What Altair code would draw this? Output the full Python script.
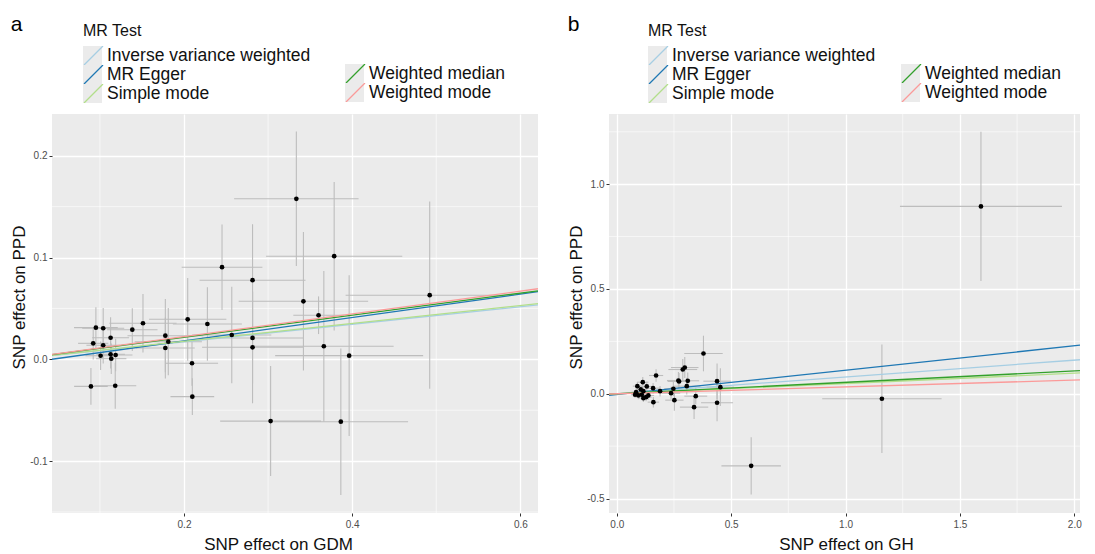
import altair as alt
import pandas as pd

FONT = "Liberation Sans"

methods_1 = ["Inverse variance weighted", "MR Egger", "Simple mode"]
methods_2 = ["Weighted median", "Weighted mode"]
colors_1 = ["#a6cee3", "#1f78b4", "#b2df8a"]
colors_2 = ["#33a02c", "#fb9a99"]

# ---------------- Panel a : GDM -> PPD ----------------
a_bx = [0.0893, 0.1182, 0.0920, 0.0952, 0.1039, 0.1039, 0.1127, 0.1008, 0.1127, 0.1135,
        0.1187, 0.1385, 0.1512, 0.1778, 0.1778, 0.1813, 0.2044, 0.2095, 0.2099, 0.2278,
        0.2452, 0.2568, 0.2815, 0.2815, 0.2815, 0.3030, 0.3336, 0.3420, 0.3600, 0.3663,
        0.3786, 0.3865, 0.3964, 0.4922]
a_sx = [0.020, 0.025, 0.018, 0.026, 0.025, 0.020, 0.022, 0.018, 0.017, 0.018,
        0.020, 0.030, 0.040, 0.045, 0.035, 0.040, 0.046, 0.031, 0.026, 0.041,
        0.048, 0.047, 0.063, 0.060, 0.060, 0.060, 0.074, 0.077, 0.030, 0.083,
        0.081, 0.080, 0.088, 0.100]
a_by = [-0.0266, -0.0260, 0.0157, 0.0311, 0.0305, 0.0138, 0.0212, 0.0035, 0.0049, 0.0006,
        0.0042, 0.0291, 0.0354, 0.0232, 0.0111, 0.0173, 0.0393, -0.0039, -0.0367, 0.0347,
        0.0905, 0.0239, 0.0777, 0.0210, 0.0118, -0.0607, 0.1577, 0.0570, 0.0433, 0.0128,
        0.1013, -0.0613, 0.0036, 0.0630]
a_sy = [0.018, 0.0225, 0.016, 0.020, 0.020, 0.018, 0.020, 0.014, 0.014, 0.015,
        0.016, 0.021, 0.0287, 0.036, 0.030, 0.033, 0.0406, 0.022, 0.018, 0.036,
        0.042, 0.0475, 0.055, 0.045, 0.055, 0.054, 0.066, 0.068, 0.0185, 0.074,
        0.073, 0.072, 0.079, 0.092]
# slopes / intercepts for IVW, MR Egger, Simple mode, Weighted median, Weighted mode
a_slope = [0.086, 0.1149, 0.088, 0.1084, 0.1116]
a_icpt = [0.0, -0.0049, 0.0, 0.0, 0.0]

# ---------------- Panel b : GH -> PPD ----------------
b_bx = [1.592, 1.159, 0.5875, 0.379, 0.4384, 0.4528, 0.4384, 0.3379, 0.3453, 0.2885,
        0.2972, 0.2694, 0.3103, 0.3060, 0.2518, 0.2373, 0.2474, 0.1892, 0.1718, 0.1587,
        0.1600, 0.1136, 0.0900, 0.1311, 0.1049, 0.1163, 0.0844, 0.0944, 0.1280, 0.1381,
        0.1093, 0.1163, 0.0800, 0.2723]
b_sx = [0.354, 0.261, 0.130, 0.084, 0.060, 0.060, 0.070, 0.062, 0.050, 0.063,
        0.060, 0.050, 0.050, 0.060, 0.040, 0.040, 0.040, 0.030, 0.031, 0.030,
        0.025, 0.025, 0.020, 0.025, 0.020, 0.020, 0.020, 0.020, 0.025, 0.025,
        0.020, 0.020, 0.018, 0.050]
b_by = [0.894, -0.0238, -0.344, 0.192, 0.060, 0.0314, -0.0429, -0.0638, -0.0114, 0.1157,
        0.1252, 0.0633, 0.0619, 0.0362, -0.0305, 0.0029, 0.0238, 0.0124, 0.0871, 0.0267,
        -0.040, 0.0552, 0.0362, 0.0348, 0.0205, 0.0124, 0.0076, -0.0081, -0.0162, -0.0081,
        -0.0048, -0.0210, -0.0048, 0.0586]
b_sy = [0.356, 0.259, 0.137, 0.085, 0.085, 0.090, 0.088, 0.057, 0.040, 0.050,
        0.050, 0.040, 0.040, 0.040, 0.050, 0.030, 0.035, 0.025, 0.030, 0.025,
        0.025, 0.025, 0.020, 0.022, 0.020, 0.018, 0.018, 0.018, 0.020, 0.020,
        0.016, 0.018, 0.016, 0.040]
b_slope = [0.0802, 0.1165, 0.049, 0.0545, 0.0327]
b_icpt = [0.0, -0.0041, 0.0, 0.0, 0.0]

LABEL_EXPR = "datum.value < 0 ? '-' + format(abs(datum.value), '.1f') : format(datum.value, '.1f')"
BG = "#ebebeb"


def legend(title, lx, ly, z, kind):
    kw = dict(orient="none", legendX=lx, legendY=ly, zindex=z, padding=0, rowPadding=0,
              clipHeight=19,
              labelFontSize=17.5, labelFont=FONT, labelOffset=3, labelLimit=400,
              titleFontSize=16, titleFont=FONT, titleFontWeight="normal",
              titlePadding=7, symbolSize=361, direction="vertical")
    if kind == "line":
        kw.update(symbolType="M-1,1L1,-1", symbolStrokeWidth=1.3,
                  labelColor="#111111", titleColor="#111111")
    else:
        kw.update(symbolType="square", symbolFillColor=BG, symbolStrokeColor=BG,
                  symbolStrokeWidth=0, symbolOpacity=1,
                  labelColor="transparent", titleColor="transparent")
    return alt.Legend(title=title, **kw) if title else alt.Legend(title=None, **kw)


def panel(label, bx, sx, by, sy, slopes, icpts, xdom, ydom, xmaj, ymaj, xminor, yminor,
          xtitle, lx1, lx2, width, title_x, title_y):
    pts = pd.DataFrame({"bx": bx, "sx": sx, "by": by, "sy": sy})
    pts["xlo"] = pts.bx - pts.sx
    pts["xhi"] = pts.bx + pts.sx
    pts["ylo"] = pts.by - pts.sy
    pts["yhi"] = pts.by + pts.sy

    xs = alt.Scale(domain=xdom, nice=False, zero=False)
    ys = alt.Scale(domain=ydom, nice=False, zero=False)
    xax = alt.Axis(values=xmaj, labelExpr=LABEL_EXPR, title=xtitle, titlePadding=7,
                   labelPadding=3, titleX=title_x)
    yax = alt.Axis(values=ymaj, labelExpr=LABEL_EXPR, title="SNP effect on PPD",
                   titlePadding=1, titleY=title_y)

    def X(f):
        return alt.X(f, type="quantitative", scale=xs, axis=xax)

    def Y(f):
        return alt.Y(f, type="quantitative", scale=ys, axis=yax)

    methods = methods_1 + methods_2
    rows = []
    for m, s, c in zip(methods, slopes, icpts):
        for xv in xdom:
            rows.append({"method": m, "x": xv, "y": c + s * xv})
    lines = pd.DataFrame(rows)

    gx = alt.Chart(pd.DataFrame({"v": xminor})).mark_rule(color="white", strokeWidth=0.6).encode(x=X("v"))
    gy = alt.Chart(pd.DataFrame({"v": yminor})).mark_rule(color="white", strokeWidth=0.6).encode(y=Y("v"))

    base = alt.Chart(pts)
    ebx = base.mark_rule(color="#bdbdbd", strokeWidth=1.1, clip=True).encode(
        x=X("xlo"), x2=alt.X2("xhi"), y=Y("by"))
    eby = base.mark_rule(color="#bdbdbd", strokeWidth=1.1, clip=True).encode(
        x=X("bx"), y=Y("ylo"), y2=alt.Y2("yhi"))

    l1 = alt.Chart(lines[lines.method.isin(methods_1)]).mark_line(strokeWidth=1.3, clip=True).encode(
        x=X("x"), y=Y("y"),
        color=alt.Color("method:N", scale=alt.Scale(domain=methods_1, range=colors_1),
                        legend=legend("MR Test", lx1, -91, 2, "line")))
    l2 = alt.Chart(lines[lines.method.isin(methods_2)]).mark_line(strokeWidth=1.3, clip=True).encode(
        x=X("x"), y=Y("y"),
        color=alt.Color("method:N", scale=alt.Scale(domain=methods_2, range=colors_2),
                        legend=legend(None, lx2, -50, 2, "line")))

    dots = base.mark_circle(color="black", size=22, opacity=1).encode(x=X("bx"), y=Y("by"))

    sq1 = alt.Chart(pd.DataFrame({"method": methods_1})).transform_filter("false").mark_point(
        shape="square", filled=True, color=BG, opacity=1).encode(
        shape=alt.Shape("method:N", scale=alt.Scale(domain=methods_1, range=["square"] * 3),
                        legend=legend("MR Test", lx1, -91, 1, "square")))
    sq2 = alt.Chart(pd.DataFrame({"method": methods_2})).transform_filter("false").mark_point(
        shape="square", filled=True, color=BG, opacity=1).encode(
        shape=alt.Shape("method:N", scale=alt.Scale(domain=methods_2, range=["square"] * 2),
                        legend=legend(None, lx2, -50, 1, "square")))

    return alt.layer(gx, gy, ebx, eby, l1, l2, dots, sq1, sq2).resolve_scale(
        color="independent", shape="independent").resolve_legend(
        color="independent", shape="independent").properties(
        width=width, height=399,
        view=alt.ViewBackground(fill=BG, strokeWidth=0),
        title=alt.TitleParams(text=label, anchor="start", frame="bounds", fontSize=21,
                              fontWeight="normal", font=FONT, color="black", offset=-12))


pa = panel("a", a_bx, a_sx, a_by, a_sy, a_slope, a_icpt,
           [0.043, 0.621], [-0.151, 0.241], [0.2, 0.4, 0.6], [-0.1, 0.0, 0.1, 0.2],
           [0.1, 0.3, 0.5], [-0.15, -0.05, 0.05, 0.15], "SNP effect on GDM", 31, 293,
           486, 226, 183)
pb = panel("b", b_bx, b_sx, b_by, b_sy, b_slope, b_icpt,
           [-0.034, 2.025], [-0.569, 1.335], [0.0, 0.5, 1.0, 1.5, 2.0], [-0.5, 0.0, 0.5, 1.0],
           [0.25, 0.75, 1.25, 1.75], [-0.25, 0.25, 0.75, 1.25], "SNP effect on GH", 39, 292,
           471, 237, 183)

chart = alt.hconcat(pa, pb, spacing=28).resolve_scale(
    color="independent", shape="independent").resolve_legend(
    color="independent", shape="independent").properties(
    padding={"left": 2, "top": 6, "right": 0, "bottom": 0}).configure(
    font=FONT).configure_view(fill=BG, strokeWidth=0).configure_axis(
    grid=True, gridColor="white", gridWidth=1.3, domain=False,
    tickColor="#333333", tickSize=3, tickWidth=1,
    labelFontSize=10, labelColor="#4d4d4d", labelFont=FONT, labelPadding=2,
    titleFontSize=17, titleFont=FONT, titleFontWeight="normal", titleColor="#111111")

chart.save("out.html", embed_options={"renderer": "svg", "actions": False})
